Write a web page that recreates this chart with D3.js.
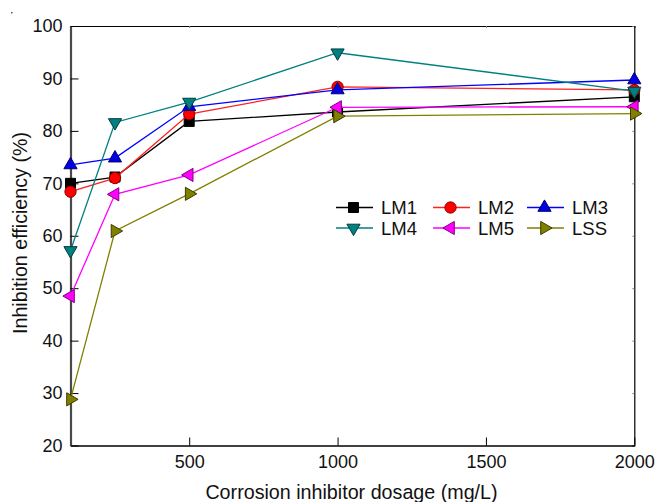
<!DOCTYPE html>
<html><head><meta charset="utf-8">
<script src="https://cdn.jsdelivr.net/npm/d3@7/dist/d3.min.js"></script>
<style>body{margin:0;background:#fff}svg{display:block}text{font-family:"Liberation Sans",Arial,sans-serif;fill:#111}</style>
</head><body><svg id="c" width="662" height="502"></svg>
<script>
const dosage = [100, 250, 500, 1000, 2000];
const LM1 = [70.0, 71.2, 81.8, 83.6, 86.5];
const LM2 = [68.4, 71.0, 83.2, 88.4, 87.8];
const LM3 = [73.5, 74.8, 84.6, 87.8, 89.7];
const LM4 = [57.2, 81.6, 85.5, 94.9, 87.6];
const LM5 = [48.5, 67.9, 71.6, 84.5, 84.6];
const LSS = [28.8, 60.9, 68.0, 82.8, 83.3];
const seriesNames = ["LM1", "LM2", "LM3", "LM4", "LM5", "LSS"];
const xTicks = [500, 1000, 1500, 2000];
const yTicks = [20, 30, 40, 50, 60, 70, 80, 90, 100];

const styles = {
  LM1: {line: "#000000", fill: "#000000", stroke: "#000000", sym: d3.symbolSquare, size: 100, rot: 0},
  LM2: {line: "#ff2020", fill: "#ff0000", stroke: "#8b0000", sym: d3.symbolCircle, size: 100, rot: 0},
  LM3: {line: "#0000ff", fill: "#0000e0", stroke: "#000070", sym: d3.symbolTriangle, size: 75, rot: 0},
  LM4: {line: "#008080", fill: "#008080", stroke: "#003c3c", sym: d3.symbolTriangle, size: 75, rot: 180},
  LM5: {line: "#ff00ff", fill: "#ff00ff", stroke: "#800080", sym: d3.symbolTriangle, size: 75, rot: -90},
  LSS: {line: "#808000", fill: "#808000", stroke: "#3c3c00", sym: d3.symbolTriangle, size: 75, rot: 90}
};
const values = {LM1, LM2, LM3, LM4, LM5, LSS};

const svg = d3.select("#c");
const L = 70.5, R = 634.3, T = 26, B = 445.5;
const x = d3.scaleLinear().domain([100, 2000]).range([L, R]);
const y = d3.scaleLinear().domain([20, 100]).range([B, T]);
const fmt = d3.format("d");

// frame: top and right with tiny ticks
svg.append("g").attr("transform", `translate(0,${T})`)
  .call(d3.axisTop(x).tickValues(xTicks).tickSize(-2).tickFormat(""))
  .call(g => g.select(".domain").attr("stroke", "#000").attr("stroke-width", 1.2))
  .call(g => g.selectAll(".tick line").attr("stroke", "#888"));
svg.append("g").attr("transform", `translate(${R},0)`)
  .call(d3.axisRight(y).tickValues(yTicks).tickSize(-2).tickFormat(""))
  .call(g => g.select(".domain").attr("stroke", "#000").attr("stroke-width", 1.2))
  .call(g => g.selectAll(".tick line").attr("stroke", "#888"));

// bottom axis
const xa = svg.append("g").attr("transform", `translate(0,${B})`)
  .call(d3.axisBottom(x).tickValues(xTicks).tickFormat(fmt).tickSize(-8).tickSizeOuter(0).tickPadding(10));
xa.select(".domain").attr("stroke", "#000").attr("stroke-width", 1.3);
xa.selectAll(".tick line").attr("stroke", "#000").attr("stroke-width", 1);
xa.selectAll(".tick text").attr("font-size", 18).attr("fill", "#111")
  .attr("font-family", '"Liberation Sans",Arial,sans-serif');

// left axis
const ya = svg.append("g").attr("transform", `translate(${L},0)`)
  .call(d3.axisLeft(y).tickValues(yTicks).tickFormat(fmt).tickSize(-8).tickSizeOuter(0).tickPadding(8));
ya.select(".domain").attr("stroke", "#4a4a4a").attr("stroke-width", 2.2);
ya.selectAll(".tick line").attr("stroke", "#000").attr("stroke-width", 1);
ya.selectAll(".tick text").attr("font-size", 18).attr("fill", "#111")
  .attr("font-family", '"Liberation Sans",Arial,sans-serif');

// titles
svg.append("text").attr("x", 351.5).attr("y", 498.5).attr("text-anchor", "middle")
  .attr("font-size", 19.7).text("Corrosion inhibitor dosage (mg/L)");
svg.append("text").attr("transform", `translate(27,233) rotate(-90)`)
  .attr("text-anchor", "middle").attr("font-size", 19.7).text("Inhibition efficiency (%)");

// stray dot in original
svg.append("rect").attr("x", 11).attr("y", 12).attr("width", 1.5).attr("height", 1.5).attr("fill", "#555");

const line = d3.line().x(d => x(d[0])).y(d => y(d[1]));
function marker(g, name, cx, cy) {
  const s = styles[name];
  g.append("path").attr("d", d3.symbol().type(s.sym).size(s.size)())
    .attr("transform", `translate(${cx},${cy}) rotate(${s.rot})`)
    .attr("fill", s.fill).attr("stroke", s.stroke).attr("stroke-width", 1);
}

seriesNames.forEach(name => {
  const pts = dosage.map((d, i) => [d, values[name][i]]);
  const g = svg.append("g");
  g.append("path").attr("d", line(pts)).attr("fill", "none")
    .attr("stroke", styles[name].line).attr("stroke-width", 1.3);
  pts.forEach(p => marker(g, name, x(p[0]), y(p[1])));
});

// legend
const colX = [336, 433, 527], rowY = [207.5, 228];
seriesNames.forEach((name, i) => {
  const cx = colX[i % 3], cy = rowY[Math.floor(i / 3)];
  const g = svg.append("g");
  g.append("line").attr("x1", cx).attr("x2", cx + 37).attr("y1", cy).attr("y2", cy)
    .attr("stroke", styles[name].line).attr("stroke-width", 1.3);
  marker(g, name, cx + 17.5, cy);
  g.append("text").attr("x", cx + 45).attr("y", cy + 6.5).attr("font-size", 18.5).text(name);
});
</script></body></html>
